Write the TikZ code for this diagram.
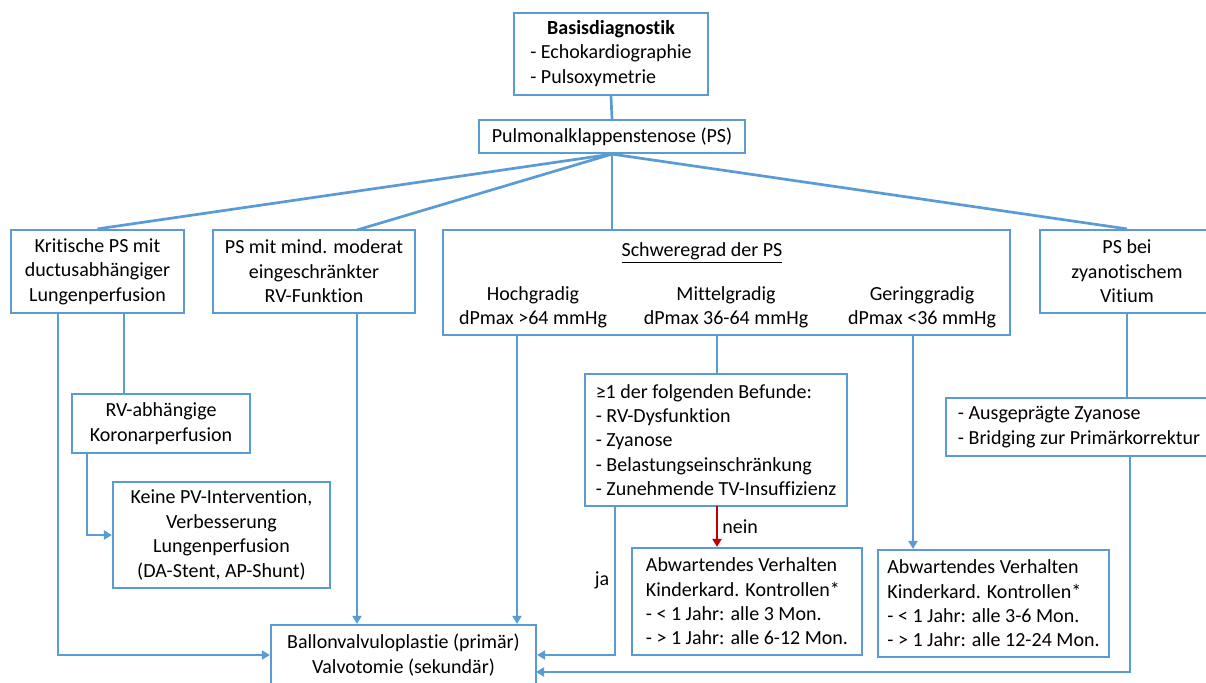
\documentclass[tikz,border=0pt]{standalone}
\usepackage{fontspec}
\setmainfont{Carlito}[Ligatures={NoCommon}]
\usetikzlibrary{arrows.meta}
\definecolor{psblue}{RGB}{91,155,213}
\definecolor{neinred}{RGB}{192,0,0}

\begin{document}
\begin{tikzpicture}
            \tikzset{x=0.5pt, y=-0.5pt, >={Triangle[width=4.5pt, length=4pt]}}
            \tikzstyle{box}=[rectangle, draw=psblue, line width=1.1pt, inner sep=0pt, align=center, font=\fontsize{10}{12.2}\selectfont]
            \tikzstyle{lbl}=[inner sep=0pt, align=center, font=\fontsize{10}{12.2}\selectfont]
            \tikzstyle{link}=[draw=psblue, line width=1.35pt]

            \useasboundingbox (0, 0) rectangle (1206, 682);

            \draw (611, 54)     node[box, minimum width=97pt, minimum height=41pt]      (basis)   {\begin{tabular}{@{}l@{}}\multicolumn{1}{@{}c@{}}{\textbf{Basisdiagnostik}}\\- Echokardiographie\\- Pulsoxymetrie\end{tabular}};
            \draw (612, 136.5)  node[box, minimum width=133pt, minimum height=16.5pt]   (ps)      {Pulmonalklappenstenose (PS)};

            \draw (97.5, 271.5) node[box, minimum width=86.5pt, minimum height=41.5pt]  (krit)    {Kritische PS mit\\ductusabhängiger\\Lungenperfusion};
            \draw (314, 271.5)  node[box, minimum width=101pt, minimum height=41.5pt]   (mind)    {PS mit mind. moderat\\eingeschränkter\\RV-Funktion};
            \draw (726.5, 282.5) node[box, minimum width=283.5pt, minimum height=52.5pt] (schwere) {};
            \draw (1127, 271.5) node[box, minimum width=87pt, minimum height=41.5pt]    (zyan)    {PS bei\\zyanotischem\\Vitium};

            \draw (702, 253)    node[lbl]   (titel)   {\underline{Schweregrad der PS}};
            \draw (533, 307.5)  node[lbl]   (hoch)    {Hochgradig\\dPmax >64 mmHg};
            \draw (726, 307.5)  node[lbl]   (mittel)  {Mittelgradig\\dPmax 36-64 mmHg};
            \draw (922, 307.5)  node[lbl]   (gering)  {Geringgradig\\dPmax <36 mmHg};

            \draw (161, 423.5)  node[box, minimum width=89pt, minimum height=29.5pt]    (rvabh)   {RV-abhängige\\Koronarperfusion};
            \draw (221.5, 535)  node[box, minimum width=108.5pt, minimum height=53pt]   (keine)   {Keine PV-Intervention,\\Verbesserung\\Lungenperfusion\\(DA-Stent, AP-Shunt)};
            \draw (716, 440)    node[box, minimum width=131pt, minimum height=66pt, align=left] (befunde) {≥1 der folgenden Befunde:\\- RV-Dysfunktion\\- Zyanose\\- Belastungseinschränkung\\- Zunehmende TV-Insuffizienz};
            \draw (1079, 427)   node[box, minimum width=133pt, minimum height=29pt, align=left]  (ausg)    {- Ausgeprägte Zyanose\\- Bridging zur Primärkorrektur};
            \draw (747, 601.5)  node[box, minimum width=115pt, minimum height=53.5pt, align=left] (abw1)   {Abwartendes Verhalten\\Kinderkard. Kontrollen*\\- < 1 Jahr: alle 3 Mon.\\- > 1 Jahr: alle 6-12 Mon.};
            \draw (993.5, 603.5) node[box, minimum width=115.5pt, minimum height=53.5pt, align=left] (abw2) {Abwartendes Verhalten\\Kinderkard. Kontrollen*\\- < 1 Jahr: alle 3-6 Mon.\\- > 1 Jahr: alle 12-24 Mon.};
            \draw (403.5, 655)  node[box, minimum width=132.5pt, minimum height=30pt]   (ballon)  {Ballonvalvuloplastie (primär)\\Valvotomie (sekundär)};

            \draw (602, 580)    node[lbl]   (ja)      {ja};

            \coordinate (mindtop)    at (357, 230);
            \coordinate (mindbot)    at (357, 313);
            \coordinate (kritl)      at (58, 313);
            \coordinate (kritr)      at (124, 313);
            \coordinate (rvl)        at (87, 453);
            \coordinate (hochdrop)   at (517, 335);
            \coordinate (mitteldrop) at (717, 335);
            \coordinate (geringdrop) at (913, 335);
            \coordinate (jadrop)     at (615, 506);
            \coordinate (neindrop)   at (717, 506);
            \coordinate (ausgdrop)   at (1130, 456);
            \coordinate (ballonlow)  at (536, 672);

            \draw [link]    (basis.south) -- (ps.north);
            \draw [link]    (ps.south) -- (krit.north);
            \draw [link]    (ps.south) -- (mindtop);
            \draw [link]    (ps.south) -- (ps.south |- schwere.north);
            \draw [link]    (ps.south) -- (zyan.north);

            \draw [link, ->]    (kritl) |- (ballon.west);
            \draw [link]        (kritr) -- (kritr |- rvabh.north);
            \draw [link, ->]    (rvl) |- (keine.west);
            \draw [link, ->]    (mindbot) -- (mindbot |- ballon.north);
            \draw [link, ->]    (hochdrop) -- (hochdrop |- ballon.north);
            \draw [link]        (mitteldrop) -- (mitteldrop |- befunde.north);
            \draw [->, draw=neinred, line width=1.35pt] (neindrop) -- (neindrop |- abw1.north) node[midway, right, lbl, xshift=2pt] (nein) {nein};
            \draw [link, ->]    (jadrop) |- (ballon.east);
            \draw [link, ->]    (geringdrop) -- (geringdrop |- abw2.north);
            \draw [link]        (zyan.south) -- (zyan.south |- ausg.north);
            \draw [link, ->]    (ausgdrop) |- (ballonlow);
        \end{tikzpicture}
\end{document}
